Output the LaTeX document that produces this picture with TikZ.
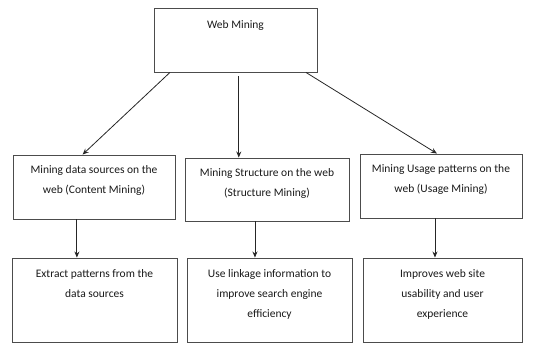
\documentclass[tikz,border=0pt]{standalone}
\usepackage{fontspec}
\setmainfont{Carlito}
\usetikzlibrary{calc,arrows.meta}
\begin{document}
\begin{tikzpicture}[x=1pt,y=-1pt,
  box/.style={draw=black!70,line width=0.9pt,rectangle,inner sep=0pt},
  txt/.style={anchor=north,align=center,font=\fontsize{11.5}{20}\selectfont,text=black!90,inner sep=0pt},
  arr/.style={draw=black!85,line width=0.8pt,-{Stealth[length=6pt,width=5pt]}}]
\useasboundingbox (0,0) rectangle (553,344);
% top box
\node[box,minimum width=163pt,minimum height=64pt] (top) at (235.5,40) {};
\node[txt] (topt) at ($(top.north)+(0,13)$) {Web Mining};
% middle row
\node[box,minimum width=162pt,minimum height=64pt] (m1) at (94,187) {};
\node[box,minimum width=164pt,minimum height=63pt] (m2) at (267,189.5) {};
\node[box,minimum width=162pt,minimum height=64pt] (m3) at (441,186) {};
\node[txt] (m1t) at ($(m1.north)+(0,11)$) {Mining data sources on the\\web (Content Mining)};
\node[txt] (m2t) at ($(m2.north)+(0,11)$) {Mining Structure on the web\\(Structure Mining)};
\node[txt] (m3t) at ($(m3.north)+(0,11)$) {Mining Usage patterns on the\\web (Usage Mining)};
% bottom row
\node[box,minimum width=165pt,minimum height=84pt] (b1) at (94.5,300) {};
\node[box,minimum width=165pt,minimum height=84pt] (b2) at (269.5,300) {};
\node[box,minimum width=159pt,minimum height=84pt] (b3) at (442.5,300) {};
\node[txt] (b1t) at ($(b1.north)+(0,12)$) {Extract patterns from the\\data sources};
\node[txt] (b2t) at ($(b2.north)+(0,12)$) {Use linkage information to\\improve search engine\\efficiency};
\node[txt] (b3t) at ($(b3.north)+(0,12)$) {Improves web site\\usability and user\\experience};
% connectors from the root
\draw[arr] ($(top.south west)!0.1!(top.south east)$) -- ($(m1.north west)!0.43!(m1.north east)$);
\draw[arr] ($(top.south west)!0.52!(top.south east)+(0,4)$) coordinate (tc) -- (tc |- m2.north);
\draw[arr] ($(top.south west)!0.93!(top.south east)$) -- ($(m3.north west)!0.475!(m3.north east)$);
% connectors to the bottom row
\draw[arr] ($(m1.south west)!0.395!(m1.south east)$) coordinate (p1) -- (p1 |- b1.north);
\draw[arr] ($(m2.south west)!0.427!(m2.south east)$) coordinate (p2) -- (p2 |- b2.north);
\draw[arr] ($(m3.south west)!0.463!(m3.south east)$) coordinate (p3) -- (p3 |- b3.north);
\end{tikzpicture}
\end{document}
